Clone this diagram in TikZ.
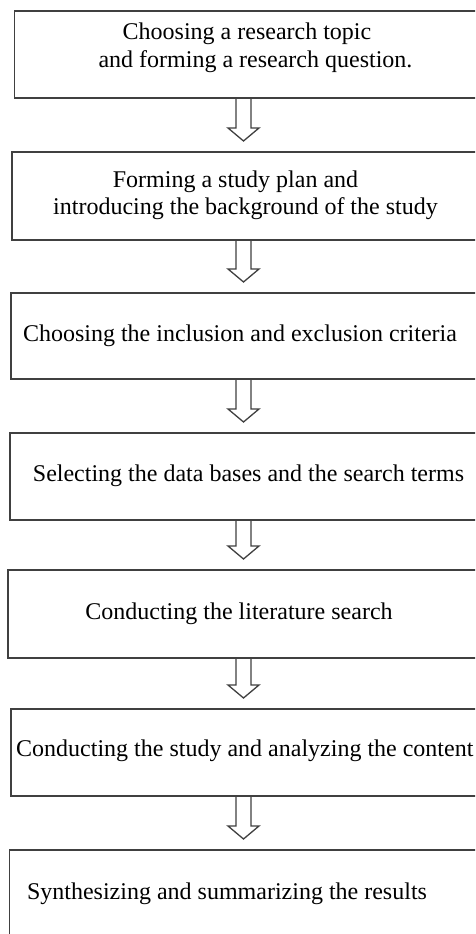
\documentclass[tikz,border=0pt]{standalone}
\usepackage{fontspec}
\setmainfont{Liberation Serif}
\usetikzlibrary{calc}
\begin{document}
\begin{tikzpicture}[x=1pt,y=1pt,
  box/.style={draw=black!75,line width=1.6pt,fill=none,inner sep=0pt,anchor=north west,minimum width=490pt},
  lbl/.style={anchor=base,inner sep=0pt,font=\fontsize{24}{28}\selectfont},
  lblw/.style={anchor=base west,inner sep=0pt,font=\fontsize{24}{28}\selectfont},
  harrow/.style={draw=black!75,line width=1.3pt,line join=miter}]
\clip (0,0) rectangle (475,934);
\fill[white] (0,0) rectangle (475,934);
% boxes
\node[box,minimum height=87pt] (b1) at (13.5,924) {};
\node[box,minimum height=88pt] (b2) at (11,783) {};
\node[box,minimum height=86pt] (b3) at (10,642) {};
\node[box,minimum height=87pt] (b4) at (9,502) {};
\node[box,minimum height=88pt] (b5) at (7,365) {};
\node[box,minimum height=87pt] (b6) at (10,226) {};
\node[box,minimum height=110pt] (b7) at (8.5,85) {};
\coordinate (ax) at (243.5,0);
% hollow arrows
\foreach \a/\b in {b1/b2,b2/b3,b3/b4,b4/b5,b5/b6,b6/b7}{
  \draw[harrow] let \p1=(\a.south -| ax), \p2=(\b.north -| ax) in
    (\x1-7.5pt,\y1) -- (\x1-7.5pt,\y2+23pt) -- (\x1-15.5pt,\y2+23pt) -- (\x1,\y2+10pt)
    -- (\x1+15.5pt,\y2+23pt) -- (\x1+7.5pt,\y2+23pt) -- (\x1+7.5pt,\y1);
}
% texts
\node[lbl] (t1a) at (247,894) {Choosing a research topic};
\node[lbl] (t1b) at (255.5,866) {and forming a research question.};
\node[lbl] (t2a) at (235.5,746) {Forming a study plan and};
\node[lbl] (t2b) at (245.5,719) {introducing the background of the study};
\node[lbl] (t3) at (240,592) {Choosing the inclusion and exclusion criteria};
\node[lbl] (t4) at (248.5,452) {Selecting the data bases and the search terms};
\node[lbl] (t5) at (239,314) {Conducting the literature search};
\node[lblw] (t6) at (16,177) {Conducting the study and analyzing the content};
\node[lbl] (t7) at (227,34) {Synthesizing and summarizing the results};
\end{tikzpicture}
\end{document}
